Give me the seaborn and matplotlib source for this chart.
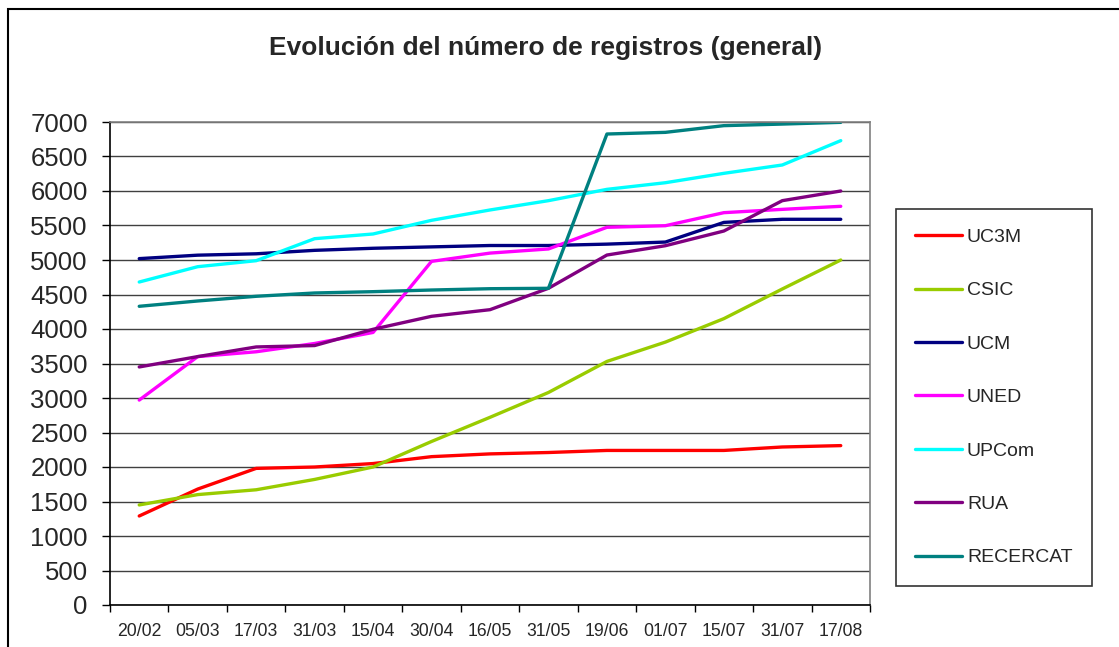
import matplotlib
matplotlib.use("Agg")
import matplotlib.pyplot as plt
import matplotlib.patches as mpatches
import seaborn as sns
import pandas as pd
import numpy as np

dates = ["20/02", "05/03", "17/03", "31/03", "15/04", "30/04", "16/05",
         "31/05", "19/06", "01/07", "15/07", "31/07", "17/08"]
uc3m = [1290, 1680, 1980, 2000, 2050, 2150, 2190, 2210, 2240, 2240, 2240, 2290, 2310]
csic = [1450, 1600, 1670, 1820, 2000, 2370, 2720, 3080, 3530, 3810, 4150, 4580, 5000]
ucm = [5020, 5070, 5090, 5140, 5170, 5190, 5210, 5210, 5230, 5260, 5545, 5590, 5590]
uned = [2970, 3600, 3670, 3790, 3950, 4980, 5100, 5160, 5474, 5497, 5686, 5734, 5778]
upcom = [4681, 4903, 4990, 5309, 5377, 5575, 5725, 5860, 6024, 6120, 6256, 6377, 6730]
rua = [3450, 3600, 3740, 3760, 3996, 4184, 4280, 4590, 5072, 5207, 5420, 5860, 6000]
recercat = [4329, 4406, 4474, 4522, 4541, 4565, 4584, 4590, 6826, 6850, 6947, 6970, 6995]

series_names = ["UC3M", "CSIC", "UCM", "UNED", "UPCom", "RUA", "RECERCAT"]
series_values = [uc3m, csic, ucm, uned, upcom, rua, recercat]
colors = ["#FF0000", "#99CC00", "#000080", "#FF00FF", "#00FFFF", "#800080", "#008080"]
y_ticks = list(range(0, 7001, 500))

rows = []
for name, vals in zip(series_names, series_values):
    for d, v in zip(dates, vals):
        rows.append({"fecha": d, "registros": v, "serie": name})
df = pd.DataFrame(rows)

sns.set_theme(style="white")
plt.rcParams["font.family"] = ["Liberation Sans", "DejaVu Sans"]

W, H = 1119, 647
fig = plt.figure(figsize=(W / 100, H / 100), dpi=100)
ax = fig.add_axes([110 / W, 1 - 605 / H, 760 / W, (605 - 122) / H])

sns.lineplot(data=df, x="fecha", y="registros", hue="serie",
             hue_order=series_names, palette=dict(zip(series_names, colors)),
             sort=False, linewidth=2.4, ax=ax, legend=True)

ax.set_xlim(-0.5, len(dates) - 0.5)
ax.set_ylim(0, 7000)
ax.set_yticks(y_ticks)
ax.set_yticklabels([str(t) for t in y_ticks], fontsize=18.5)
ax.set_xticks(range(len(dates)))
ax.set_xticklabels(dates, fontsize=12.7)
ax.set_xticks(np.arange(-0.5, len(dates), 1.0), minor=True)
ax.tick_params(axis="x", which="major", length=0, pad=13)
ax.tick_params(axis="x", which="minor", length=5, width=1, color="black", direction="out", bottom=True)
ax.tick_params(axis="y", length=6, width=1, color="black", direction="out", left=True, pad=10)
ax.set_xlabel("")
ax.set_ylabel("")
ax.yaxis.grid(True, color="#404040", linewidth=1)
ax.xaxis.grid(False)
ax.set_axisbelow(True)
for s in ["left", "bottom"]:
    ax.spines[s].set_color("black")
    ax.spines[s].set_linewidth(1.2)
for s in ["top", "right"]:
    ax.spines[s].set_color("#808080")
    ax.spines[s].set_linewidth(1.2)

handles, labels = ax.get_legend_handles_labels()
ax.get_legend().remove()
leg = fig.legend(handles, labels, loc="upper left",
                 bbox_to_anchor=(896 / W, 1 - 209 / H), borderaxespad=0,
                 fontsize=14, frameon=True, fancybox=False, edgecolor="black",
                 labelspacing=1.84, handlelength=2.4, handletextpad=0.25,
                 borderpad=1.0)
leg.get_frame().set_linewidth(1.2)
for line in leg.get_lines():
    line.set_linewidth(2.4)

fig.text(546 / W, 1 - 48 / H, "Evolución del número de registros (general)",
         ha="center", va="center", fontsize=19, fontweight="bold")

border = mpatches.Rectangle((8 / W, -0.1), 1.2, 1 - 9 / H + 0.1,
                            transform=fig.transFigure, fill=False,
                            edgecolor="black", linewidth=1.5)
fig.patches.append(border)

fig.savefig("out.png", dpi=100)
